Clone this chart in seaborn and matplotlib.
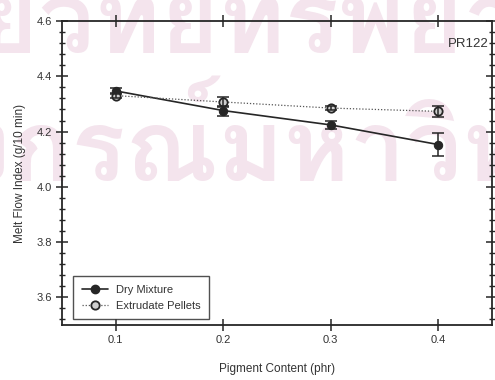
import numpy as np
import pandas as pd
import matplotlib
matplotlib.use("Agg")
import matplotlib.pyplot as plt
from matplotlib import font_manager
from matplotlib.ticker import MultipleLocator
import seaborn as sns

# Melt flow index of PR122-pigmented samples
pigment = [0.1, 0.2, 0.3, 0.4]
dry_mfi = [4.347, 4.276, 4.224, 4.153]
dry_err = [0.010, 0.018, 0.016, 0.040]
pellet_mfi = [4.330, 4.307, 4.285, 4.273]
pellet_err = [0.010, 0.018, 0.008, 0.020]
series_names = ["Dry Mixture", "Extrudate Pellets"]

watermark_lines = ["ศูนย์วิทยทรัพยากร", "จุฬาลงกรณ์มหาวิทยาลัย"]

df = pd.DataFrame({
    "Pigment Content (phr)": pigment * 2,
    "MFI": dry_mfi + pellet_mfi,
    "err": dry_err + pellet_err,
    "Sample": [series_names[0]] * 4 + [series_names[1]] * 4,
})

sns.set_theme(style="ticks")
plt.rcParams["font.family"] = ["Liberation Sans", "DejaVu Sans"]


def thai_font():
    files = font_manager.findSystemFonts()
    for name in ["Umpush-Bold", "Umpush", "Loma-Bold", "Loma"]:
        for f in files:
            if f.split("/")[-1].rsplit(".", 1)[0] == name:
                return font_manager.FontProperties(fname=f)
    return None


W, H = 495, 380
fig = plt.figure(figsize=(W / 100, H / 100), dpi=100)
renderer = fig.canvas.get_renderer()

# faint library watermark behind the plot
tp = thai_font()
if tp is not None:
    wm_color = "#f4e4ed"
    wm_size = 72

    def place(line, prefix, x_px, base_px):
        probe = fig.text(0, 0, prefix, fontproperties=tp, fontsize=wm_size)
        shift = probe.get_window_extent(renderer).width
        probe.remove()
        fig.text((x_px - shift) / W, 1 - base_px / H, line, fontproperties=tp,
                 fontsize=wm_size, color=wm_color, ha="left", va="baseline",
                 zorder=-1)

    place(watermark_lines[0], "ศูน", -20, 53)
    place(watermark_lines[1], "จุฬาลงก", 72, 182)

ax = fig.add_axes([0.1253, 0.1447, 0.8687, 0.8])
ax.set_facecolor("none")

ink = "#262626"
sns.lineplot(data=df, x="Pigment Content (phr)", y="MFI", hue="Sample",
             style="Sample", markers={"Dry Mixture": "o", "Extrudate Pellets": "o"},
             dashes={"Dry Mixture": "", "Extrudate Pellets": (1, 1.5)},
             palette={"Dry Mixture": ink, "Extrudate Pellets": "#555555"},
             ax=ax, legend=False, zorder=3)
lines = ax.get_lines()
lines[0].set_linewidth(1.2)
lines[0].set_markersize(6)
lines[0].set_markerfacecolor(ink)
lines[0].set_markeredgecolor(ink)
lines[1].set_linewidth(0.9)
lines[1].set_markersize(6)
lines[1].set_markerfacecolor("#cfcfcf")
lines[1].set_markeredgecolor(ink)
lines[1].set_markeredgewidth(1.3)

for name, sub in df.groupby("Sample", sort=False):
    ax.errorbar(sub["Pigment Content (phr)"], sub["MFI"], yerr=sub["err"],
                fmt="none", ecolor=ink, elinewidth=1.1, capsize=4,
                capthick=1.1, zorder=4)

ax.set_xlim(0.05, 0.45)
ax.set_ylim(3.5, 4.6)
ax.yaxis.set_minor_locator(MultipleLocator(0.04))
ax.set_xticks(pigment)
ax.set_xticklabels(["0.1", "0.2", "0.3", "0.4"])
ax.set_yticks([3.6, 3.8, 4.0, 4.2, 4.4, 4.6])
ax.set_yticklabels(["3.6", "3.8", "4.0", "4.2", "4.4", "4.6"])

for s in ax.spines.values():
    s.set_linewidth(1.3)
    s.set_color(ink)
ax.tick_params(which="major", direction="inout", length=8, width=1.1,
               color=ink, labelsize=8, labelcolor="#333333",
               top=True, right=True, pad=3)
ax.tick_params(which="minor", direction="inout", length=5, width=1.0,
               color=ink, right=True)
ax.tick_params(axis="x", which="minor", bottom=False, top=False)

ax.set_xlabel("Pigment Content (phr)", fontsize=8.5, color="#333333", labelpad=13)
ax.set_ylabel("Melt Flow Index (g/10 min)", fontsize=8.5, color="#333333", labelpad=8)

ax.text(0.992, 0.905, "PR122", transform=ax.transAxes, ha="right", va="bottom",
        fontsize=9.5, color="#333333")

handles = [
    plt.Line2D([], [], color=ink, lw=1.2, marker="o", ms=6, mfc=ink, mec=ink),
    plt.Line2D([], [], color="#555555", lw=0.9, ls=(0, (1, 1.5)), marker="o", ms=6,
               mfc="#cfcfcf", mec=ink, mew=1.3),
]
leg = ax.legend(handles, series_names, loc="lower left",
                bbox_to_anchor=(0.021, 0.012), fontsize=8, frameon=True,
                fancybox=False, edgecolor=ink, handlelength=2.4,
                borderpad=0.75, labelspacing=0.55, handletextpad=0.7,
                borderaxespad=0.2)
leg.get_frame().set_linewidth(1.0)
for t in leg.get_texts():
    t.set_color("#333333")

fig.savefig("out.png", dpi=100)
